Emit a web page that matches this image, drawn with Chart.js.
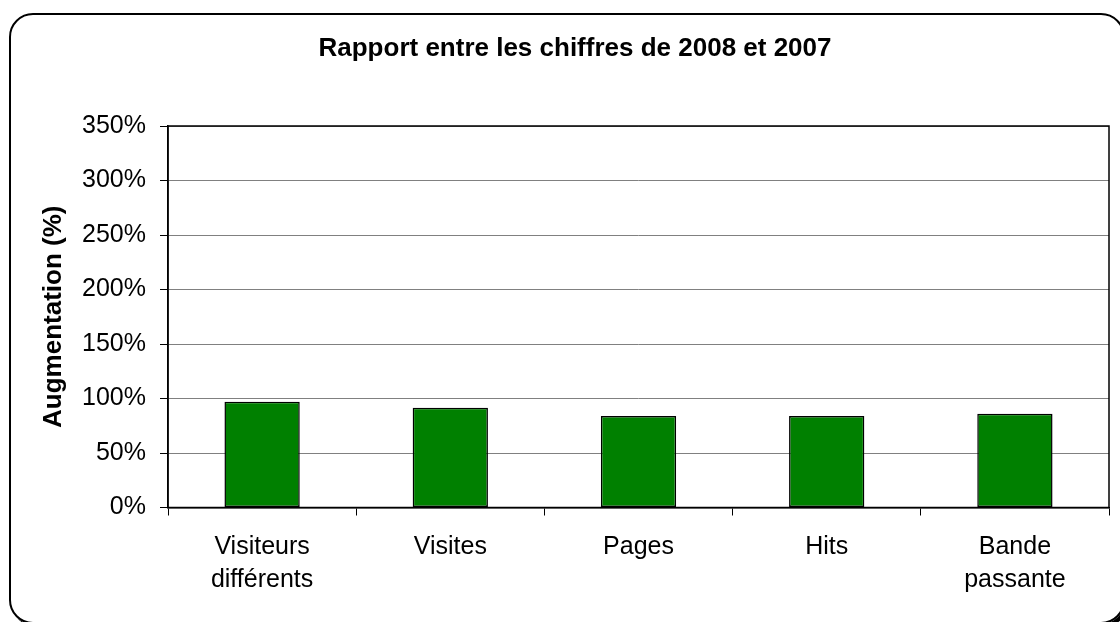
<!DOCTYPE html>
<html>
<head>
<meta charset="utf-8">
<title>Rapport entre les chiffres de 2008 et 2007</title>
<script src="https://cdn.jsdelivr.net/npm/chart.js@4.4.1/dist/chart.umd.min.js"></script>
<style>
    html, body { margin: 0; padding: 0; background: #fff; overflow: hidden; }
    #frame {
        position: absolute; left: 9px; top: 13px; width: 1116px; height: 611px;
        border: 2px solid #000; border-radius: 24px; box-sizing: border-box;
        box-shadow: 3px 3px 0 #000;
    }
    #wrap { position: absolute; left: 0; top: 0; width: 1120px; height: 622px; }
</style>
</head>
<body>
<div id="frame"></div>
<div id="wrap"><canvas id="chart" width="1120" height="622"></canvas></div>
<script>
const chartTitle = 'Rapport entre les chiffres de 2008 et 2007';
const categories = [['Visiteurs', 'différents'], 'Visites', 'Pages', 'Hits', ['Bande', 'passante']];
const augmentation = [97, 91.5, 84, 84, 86];
const yTicks = [0, 50, 100, 150, 200, 250, 300, 350];

const FONT = "'Liberation Sans', Arial, sans-serif";

// cadre noir autour de la zone de tracé + titre (décalé comme dans Excel)
const plotBorder = {
    id: 'plotBorder',
    afterDraw(chart) {
        const { ctx, chartArea: a } = chart;
        ctx.save();
        ctx.strokeStyle = '#000';
        ctx.lineWidth = 1.5;
        ctx.strokeRect(a.left, a.top, a.right - a.left, a.bottom - a.top);
        ctx.fillStyle = '#000';
        ctx.font = 'bold 26px ' + FONT;
        ctx.textAlign = 'center';
        ctx.textBaseline = 'middle';
        ctx.fillText(chartTitle, 575, 49);
        ctx.restore();
    }
};

new Chart(document.getElementById('chart').getContext('2d'), {
    type: 'bar',
    data: {
        labels: categories,
        datasets: [{
            data: augmentation,
            backgroundColor: '#008000',
            borderColor: '#000',
            borderWidth: 1.5,
            borderSkipped: false,
            barPercentage: 0.4,
            categoryPercentage: 1.0
        }]
    },
    options: {
        responsive: false,
        animation: false,
        layout: { padding: { left: 0, right: 11, top: 126, bottom: 0 } },
        plugins: {
            legend: { display: false },
            tooltip: { enabled: false },
            title: { display: false }
        },
        scales: {
            x: {
                grid: { display: true, drawOnChartArea: false, offset: true, tickLength: 8, color: '#000', lineWidth: 1 },
                border: { color: '#000', width: 1.5 },
                ticks: {
                    color: '#000', maxRotation: 0, padding: 15,
                    font: { family: FONT, size: 25, lineHeight: 1.32 }
                },
                afterFit(scale) { scale.height = 114.5; }
            },
            y: {
                min: 0, max: 350,
                afterBuildTicks(scale) { scale.ticks = yTicks.map(v => ({ value: v })); },
                grid: { color: '#808080', lineWidth: 1, tickLength: 8, tickColor: '#000' },
                border: { color: '#000', width: 1.5 },
                ticks: {
                    color: '#000', padding: 14,
                    font: { family: FONT, size: 25 },
                    callback: v => v + '%'
                },
                title: {
                    display: true,
                    text: 'Augmentation (%)',
                    color: '#000',
                    font: { family: FONT, size: 26, weight: 'bold', lineHeight: 1.2 },
                    padding: { top: 38, bottom: 0 }
                },
                afterFit(scale) { scale.width = 168; }
            }
        }
    },
    plugins: [plotBorder]
});
</script>
</body>
</html>
